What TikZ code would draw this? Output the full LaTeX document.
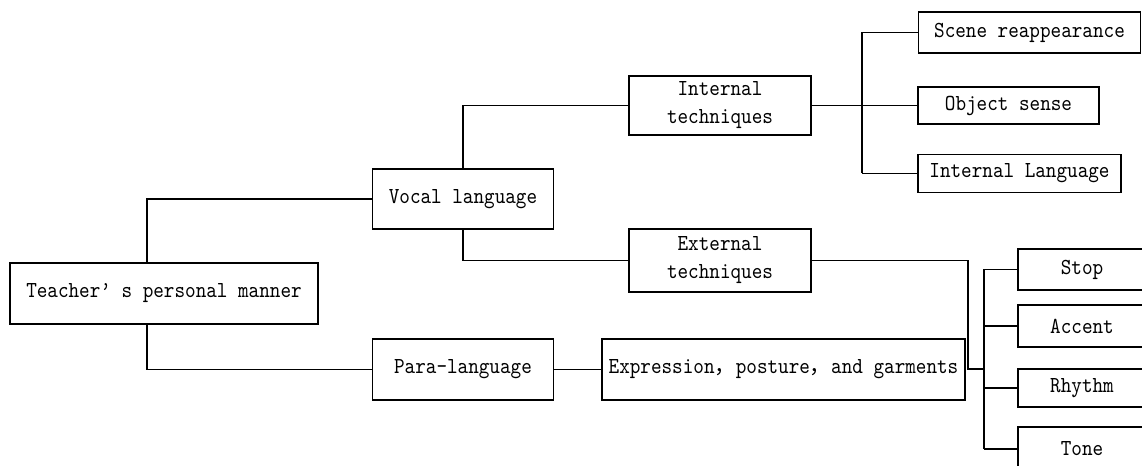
\documentclass[tikz,border=0pt]{standalone}
\usepackage{fontspec}
\setmainfont[FakeStretch=0.88]{lmmono10-regular.otf}
\newfontfamily\cjk[Scale=0.925]{Noto Sans CJK SC}
\begin{document}
\begin{tikzpicture}[x=0.75pt,y=-0.75pt,
  box/.style={draw,line width=0.8pt,inner sep=0pt,align=center,
    font=\fontsize{17.2}{21}\selectfont},
  wh/.style 2 args={minimum width=#1*0.75pt,minimum height=#2*0.75pt},
  wire/.style={line width=0.8pt}]
% coordinates are pixels of the 1142x466 frame, y downwards
\clip (0,0) rectangle (1142,466);
\node[box,wh={308}{61}] (manner) at (164,293.5) {Teacher’ s personal manner};
\node[box,wh={181}{60}] (vocal) at (463,199) {Vocal language};
\node[box,wh={181}{61}] (para) at (463,369.5) {Para-language};
\node[box,wh={363}{61}] (expr) at (783.5,369.5) {Expression{\cjk ，}posture{\cjk ，}and garments};
\node[box,wh={182}{59}] (internal) at (720,105.5) {Internal\\techniques};
\node[box,wh={182}{63}] (external) at (720,260.5) {External\\techniques};
\node[box,wh={222}{41}] (scene) at (1029.5,32.5) {Scene reappearance};
\node[box,wh={181}{37}] (object) at (1008.5,105.5) {Object sense};
\node[box,wh={203}{38}] (innerlang) at (1019.5,173.5) {Internal Language};
\node[box,wh={128}{41}] (stop) at (1082,269.5) {Stop};
\node[box,wh={128}{42}] (accent) at (1082,326) {Accent};
\node[box,wh={128}{38}] (rhythm) at (1082,388) {Rhythm};
\node[box,wh={128}{44}] (tone) at (1082,449) {Tone};
\coordinate (mx) at (147,0);
\coordinate (ibus) at (862,105.5);
\coordinate (ejog) at (968,369);
\coordinate (ebus) at (984,369);
\draw[wire] (vocal.west) -| (manner.north -| mx);
\draw[wire] (para.west) -| (manner.south -| mx);
\draw[wire] (vocal.north) |- (internal.west);
\draw[wire] (vocal.south) |- (external.west);
\draw[wire] (para.east) -- (expr.west);
\draw[wire] (internal.east) -- (ibus);
\draw[wire] (ibus |- scene.west) -- (ibus |- innerlang.west);
\draw[wire] (ibus |- scene.west) -- (scene.west);
\draw[wire] (ibus) -- (object.west);
\draw[wire] (ibus |- innerlang.west) -- (innerlang.west);
\draw[wire] (external.east) -| (ejog) -- (ebus);
\draw[wire] (ebus |- stop.west) -- (ebus |- tone.west);
\draw[wire] (ebus |- stop.west) -- (stop.west);
\draw[wire] (ebus |- accent.west) -- (accent.west);
\draw[wire] (ebus |- rhythm.west) -- (rhythm.west);
\draw[wire] (ebus |- tone.west) -- (tone.west);
\end{tikzpicture}
\end{document}
